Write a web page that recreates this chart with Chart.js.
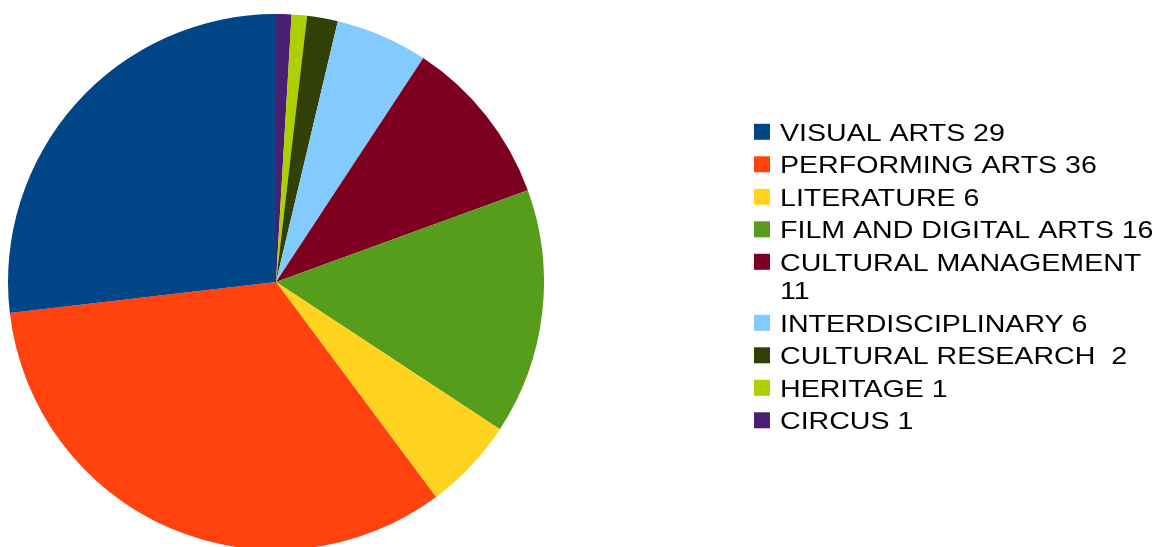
<!DOCTYPE html>
<html><head><meta charset="utf-8">
<script src="https://cdn.jsdelivr.net/npm/chart.js@4.4.0/dist/chart.umd.min.js"></script>
<style>html,body{margin:0;padding:0;background:#fff;overflow:hidden}#wrap{position:relative;width:1159px;height:560px}</style>
</head><body><div id="wrap"><canvas id="c"></canvas></div>
<script>
const categories = ['VISUAL ARTS','PERFORMING ARTS','LITERATURE','FILM AND DIGITAL ARTS','CULTURAL MANAGEMENT','INTERDISCIPLINARY','CULTURAL RESEARCH ','HERITAGE','CIRCUS'];
const values = [29,36,6,16,11,6,2,1,1];
const colors = ['#004586','#ff420e','#ffd320','#579d1c','#7e0021','#83caff','#314004','#aecf00','#4b1f6f'];

// Chart.js draws clockwise; the reference runs counter-clockwise from 12 o'clock
const pieLabels = categories.slice().reverse();
const pieValues = values.slice().reverse();
const pieColors = colors.slice().reverse();

const legendPlugin = {
  id: 'sideLegend',
  afterDraw(chart) {
    const ctx = chart.ctx;
    ctx.save();
    ctx.font = '24px "Liberation Sans", Arial, sans-serif';
    ctx.textBaseline = 'alphabetic';
    ctx.textAlign = 'left';
    const sx = 1.19;
    const boxX = 754, textX = 780, maxW = 1159 - textX;
    let cy = 131.8;
    for (let i = 0; i < categories.length; i++) {
      const full = categories[i] + ' ' + values[i];
      let lines = [full];
      if (ctx.measureText(full).width * sx > maxW) {
        const k = full.lastIndexOf(' ');
        lines = [full.slice(0, k), full.slice(k + 1)];
      }
      ctx.fillStyle = colors[i];
      ctx.fillRect(boxX, cy - 8, 16, 16);
      ctx.fillStyle = '#000';
      lines.forEach((ln, j) => {
        ctx.save();
        ctx.translate(textX, cy + 9 + j * 28.5);
        ctx.scale(sx, 1);
        ctx.fillText(ln, 0, 0);
        ctx.restore();
      });
      cy += 32.5 + (lines.length - 1) * 28.5;
    }
    ctx.restore();
  }
};

new Chart(document.getElementById('c'), {
  type: 'pie',
  data: {
    labels: pieLabels,
    datasets: [{ data: pieValues, backgroundColor: pieColors, borderWidth: 0 }]
  },
  options: {
    responsive: true,
    maintainAspectRatio: false,
    animation: false,
    layout: { padding: { left: 8, top: 14, right: 615, bottom: 10 } },
    plugins: { legend: { display: false }, tooltip: { enabled: false } }
  },
  plugins: [legendPlugin]
});
</script>
</body></html>
